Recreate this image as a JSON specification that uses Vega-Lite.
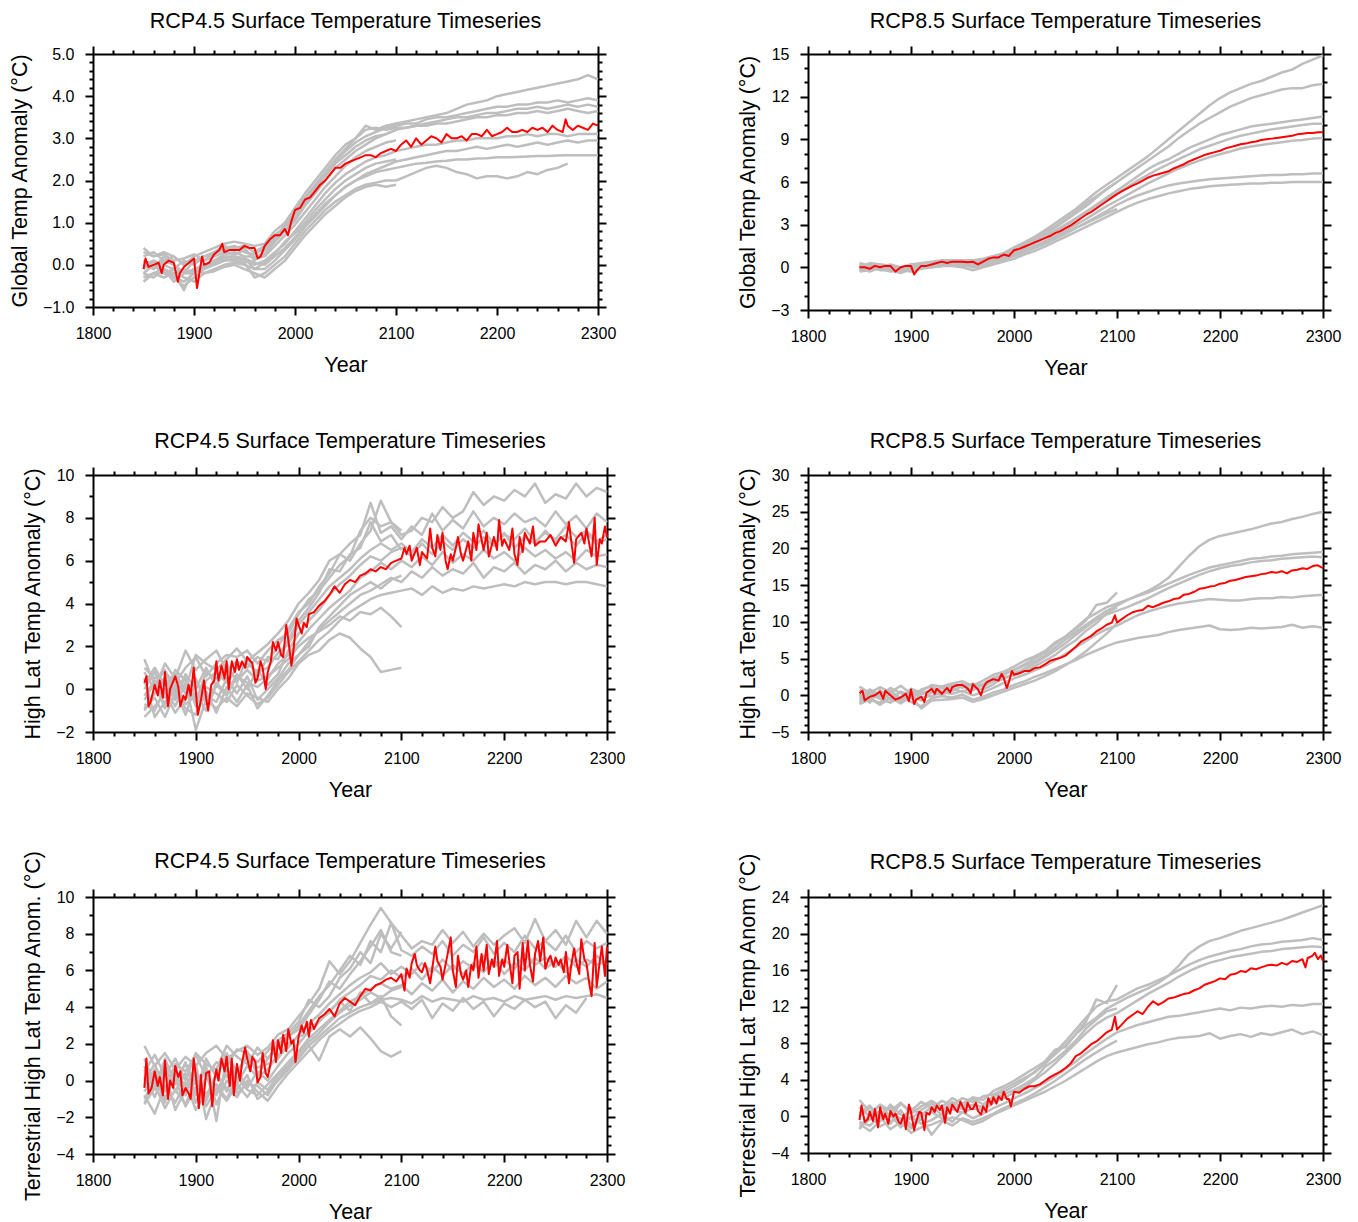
{
"$schema":"https://vega.github.io/schema/vega-lite/v6.json",
"autosize":{"type":"none"},
"padding":{"left":93,"top":54,"right":1265,"bottom":1168},
"background":"white",
"config":{
 "font":"Liberation Sans",
 "view":{"stroke":null},
 "axis":{"grid":false,"domainColor":"black","domainWidth":2,"tickColor":"black","tickWidth":2,"labelFont":"Liberation Sans","labelFontSize":16,"labelColor":"black","titleFont":"Liberation Sans","titleFontSize":21.5,"titleFontWeight":"normal","titleColor":"black","labelOverlap":false,"labelFlush":false,"labelBound":false},
 "axisX":{"labelPadding":10,"titlePadding":13},
 "axisY":{"labelPadding":11,"titlePadding":11},
 "title":{"font":"Liberation Sans","fontSize":21.5,"fontWeight":"normal","color":"black","offset":13,"anchor":"middle"},
 "line":{"strokeJoin":"round"}
},
"datasets":{
"r1":[{"x":1850,"y":-0.1},{"x":1852,"y":0.15},{"x":1855,"y":-0.05},{"x":1860,"y":0},{"x":1865,"y":0.05},{"x":1868,"y":-0.2},{"x":1870,"y":0},{"x":1875,"y":0.1},{"x":1880,"y":0.05},{"x":1884,"y":-0.4},{"x":1886,"y":-0.2},{"x":1890,"y":-0.05},{"x":1895,"y":0.05},{"x":1900,"y":0.15},{"x":1903,"y":-0.55},{"x":1905,"y":-0.25},{"x":1908,"y":0.2},{"x":1910,"y":0},{"x":1915,"y":0.05},{"x":1920,"y":0.25},{"x":1925,"y":0.35},{"x":1928,"y":0.5},{"x":1930,"y":0.3},{"x":1935,"y":0.35},{"x":1940,"y":0.35},{"x":1945,"y":0.35},{"x":1950,"y":0.45},{"x":1955,"y":0.4},{"x":1960,"y":0.4},{"x":1963,"y":0.15},{"x":1966,"y":0.2},{"x":1970,"y":0.45},{"x":1975,"y":0.6},{"x":1980,"y":0.7},{"x":1985,"y":0.7},{"x":1990,"y":0.85},{"x":1993,"y":0.7},{"x":1996,"y":1.0},{"x":2000,"y":1.3},{"x":2005,"y":1.35},{"x":2010,"y":1.55},{"x":2015,"y":1.6},{"x":2020,"y":1.75},{"x":2025,"y":1.9},{"x":2030,"y":2.0},{"x":2035,"y":2.15},{"x":2040,"y":2.3},{"x":2045,"y":2.3},{"x":2050,"y":2.4},{"x":2055,"y":2.45},{"x":2060,"y":2.5},{"x":2065,"y":2.55},{"x":2070,"y":2.6},{"x":2075,"y":2.6},{"x":2080,"y":2.55},{"x":2085,"y":2.65},{"x":2090,"y":2.7},{"x":2095,"y":2.75},{"x":2100,"y":2.7},{"x":2105,"y":2.85},{"x":2110,"y":2.95},{"x":2115,"y":2.8},{"x":2120,"y":3.0},{"x":2125,"y":2.85},{"x":2130,"y":2.95},{"x":2135,"y":3.05},{"x":2140,"y":3.0},{"x":2145,"y":2.9},{"x":2150,"y":3.1},{"x":2155,"y":3.0},{"x":2160,"y":3.0},{"x":2165,"y":3.05},{"x":2170,"y":2.95},{"x":2175,"y":3.1},{"x":2180,"y":3.1},{"x":2185,"y":3.05},{"x":2190,"y":3.2},{"x":2195,"y":3.05},{"x":2200,"y":3.1},{"x":2205,"y":3.15},{"x":2210,"y":3.25},{"x":2215,"y":3.15},{"x":2220,"y":3.15},{"x":2225,"y":3.2},{"x":2230,"y":3.15},{"x":2235,"y":3.25},{"x":2240,"y":3.2},{"x":2245,"y":3.25},{"x":2250,"y":3.15},{"x":2255,"y":3.3},{"x":2260,"y":3.2},{"x":2265,"y":3.15},{"x":2268,"y":3.45},{"x":2270,"y":3.3},{"x":2275,"y":3.2},{"x":2280,"y":3.3},{"x":2285,"y":3.25},{"x":2290,"y":3.2},{"x":2295,"y":3.35},{"x":2300,"y":3.3}],
"g1":[
{"x":1850,"a":0.2,"b":-0.1,"c":0,"d":0.3,"e":-0.3,"f":0.1,"g":-0.2,"h":0,"i":0.4,"j":-0.4,"k":0.1,"l":-0.2},
{"x":1860,"a":0.3,"b":0.1,"c":-0.1,"d":0.2,"e":-0.2,"f":0,"g":-0.3,"h":0.1,"i":0.2,"j":-0.2,"k":-0.1,"l":0},
{"x":1870,"a":0.1,"b":0,"c":0.1,"d":0.25,"e":-0.1,"f":-0.2,"g":-0.1,"h":-0.1,"i":0.3,"j":-0.3,"k":0.2,"l":-0.2},
{"x":1880,"a":0.2,"b":-0.1,"c":0,"d":0.1,"e":-0.3,"f":-0.1,"g":-0.2,"h":-0.4,"i":0.2,"j":-0.2,"k":0,"l":-0.3},
{"x":1890,"a":0,"b":0.1,"c":-0.2,"d":0.15,"e":-0.5,"f":-0.3,"g":-0.1,"h":-0.2,"i":0,"j":-0.6,"k":-0.2,"l":-0.4},
{"x":1900,"a":0.2,"b":0,"c":-0.1,"d":0.25,"e":-0.3,"f":-0.4,"g":-0.2,"h":-0.2,"i":0.1,"j":-0.1,"k":0.1,"l":-0.2},
{"x":1910,"a":0.3,"b":0.2,"c":0,"d":0.1,"e":-0.1,"f":-0.2,"g":-0.05,"h":0,"i":0.2,"j":-0.2,"k":0.1,"l":0},
{"x":1920,"a":0.4,"b":0.3,"c":0.1,"d":0.3,"e":0,"f":-0.1,"g":0.05,"h":0,"i":0.25,"j":-0.15,"k":0.2,"l":0.1},
{"x":1930,"a":0.5,"b":0.35,"c":0.25,"d":0.45,"e":0.1,"f":0,"g":0.15,"h":0.1,"i":0.4,"j":-0.05,"k":0.3,"l":0.2},
{"x":1940,"a":0.55,"b":0.4,"c":0.3,"d":0.35,"e":0.15,"f":0.05,"g":0.2,"h":0.1,"i":0.45,"j":0,"k":0.25,"l":0.2},
{"x":1950,"a":0.5,"b":0.45,"c":0.2,"d":0.4,"e":0.1,"f":0,"g":0.15,"h":0.05,"i":0.3,"j":-0.1,"k":0.35,"l":0.15},
{"x":1960,"a":0.45,"b":0.3,"c":0.2,"d":0.1,"e":0,"f":-0.1,"g":0.05,"h":-0.3,"i":0.25,"j":-0.2,"k":0.15,"l":-0.1},
{"x":1970,"a":0.5,"b":0.45,"c":0.25,"d":0.35,"e":0.1,"f":-0.1,"g":0,"h":-0.2,"i":0.4,"j":-0.3,"k":0.2,"l":0.05},
{"x":1980,"a":0.8,"b":0.7,"c":0.55,"d":0.6,"e":0.3,"f":0.1,"g":0.2,"h":0,"i":0.65,"j":-0.1,"k":0.45,"l":0.25},
{"x":1990,"a":1.0,"b":0.9,"c":0.8,"d":0.95,"e":0.5,"f":0.35,"g":0.4,"h":0.2,"i":0.85,"j":0.1,"k":0.7,"l":0.55},
{"x":2000,"a":1.35,"b":1.2,"c":1.05,"d":1.3,"e":0.8,"f":0.6,"g":0.65,"h":0.5,"i":1.1,"j":0.4,"k":0.95,"l":0.75},
{"x":2010,"a":1.7,"b":1.55,"c":1.4,"d":1.6,"e":1.1,"f":0.9,"g":0.95,"h":0.8,"i":1.45,"j":0.7,"k":1.25,"l":1.0},
{"x":2020,"a":2.0,"b":1.85,"c":1.7,"d":1.9,"e":1.4,"f":1.15,"g":1.2,"h":1.05,"i":1.8,"j":0.95,"k":1.55,"l":1.3},
{"x":2030,"a":2.3,"b":2.15,"c":2.0,"d":2.2,"e":1.7,"f":1.4,"g":1.45,"h":1.3,"i":2.1,"j":1.2,"k":1.85,"l":1.55},
{"x":2040,"a":2.6,"b":2.45,"c":2.3,"d":2.5,"e":1.95,"f":1.65,"g":1.65,"h":1.5,"i":2.4,"j":1.4,"k":2.1,"l":1.8},
{"x":2050,"a":2.85,"b":2.7,"c":2.5,"d":2.75,"e":2.15,"f":1.85,"g":1.85,"h":1.65,"i":2.6,"j":1.6,"k":2.35,"l":2.0},
{"x":2060,"a":3.0,"b":2.9,"c":2.7,"d":3.0,"e":2.3,"f":2.0,"g":2.0,"h":1.8,"i":2.8,"j":1.75,"k":2.55,"l":2.15},
{"x":2070,"a":3.3,"b":3.05,"c":2.85,"d":3.2,"e":2.45,"f":2.15,"g":2.1,"h":1.9,"i":2.95,"j":1.85,"k":2.7,"l":2.3},
{"x":2080,"a":3.2,"b":3.15,"c":3.0,"d":3.25,"e":2.55,"f":2.25,"g":2.2,"h":1.95,"i":3.05,"j":1.9,"k":2.8,"l":2.4},
{"x":2090,"a":3.3,"b":3.25,"c":3.1,"d":3.2,"e":2.6,"f":2.35,"g":2.25,"h":2.0,"i":3.1,"j":1.85,"k":2.9,"l":2.45},
{"x":2100,"a":3.35,"b":3.3,"c":3.2,"d":3.25,"e":2.7,"f":2.45,"g":2.3,"h":2.0,"i":3.2,"j":1.9,"k":2.95,"l":2.5},
{"x":2110,"a":3.4,"b":3.35,"c":3.25,"d":3.25,"e":2.75,"f":2.5,"g":2.35,"h":2.1},
{"x":2120,"a":3.45,"b":3.35,"c":3.3,"d":3.3,"e":2.8,"f":2.55,"g":2.4,"h":2.2},
{"x":2130,"a":3.5,"b":3.45,"c":3.35,"d":3.3,"e":2.85,"f":2.6,"g":2.42,"h":2.3},
{"x":2140,"a":3.55,"b":3.5,"c":3.4,"d":3.35,"e":2.85,"f":2.65,"g":2.45,"h":2.35},
{"x":2150,"a":3.6,"b":3.5,"c":3.45,"d":3.35,"e":2.9,"f":2.7,"g":2.47,"h":2.3},
{"x":2160,"a":3.7,"b":3.55,"c":3.5,"d":3.4,"e":2.95,"f":2.7,"g":2.5,"h":2.2},
{"x":2170,"a":3.8,"b":3.6,"c":3.5,"d":3.45,"e":2.95,"f":2.75,"g":2.5,"h":2.15},
{"x":2180,"a":3.85,"b":3.65,"c":3.55,"d":3.5,"e":3.0,"f":2.8,"g":2.52,"h":2.05},
{"x":2190,"a":3.9,"b":3.7,"c":3.6,"d":3.5,"e":3.0,"f":2.75,"g":2.53,"h":2.1},
{"x":2200,"a":4.0,"b":3.75,"c":3.6,"d":3.55,"e":3.0,"f":2.8,"g":2.55,"h":2.1},
{"x":2210,"a":4.05,"b":3.75,"c":3.65,"d":3.55,"e":3.05,"f":2.85,"g":2.55,"h":2.05},
{"x":2220,"a":4.1,"b":3.8,"c":3.7,"d":3.6,"e":3.05,"f":2.8,"g":2.56,"h":2.1},
{"x":2230,"a":4.15,"b":3.8,"c":3.7,"d":3.6,"e":3.1,"f":2.85,"g":2.57,"h":2.2},
{"x":2240,"a":4.2,"b":3.85,"c":3.75,"d":3.65,"e":3.05,"f":2.9,"g":2.58,"h":2.15},
{"x":2250,"a":4.25,"b":3.85,"c":3.7,"d":3.6,"e":3.1,"f":2.85,"g":2.58,"h":2.25},
{"x":2260,"a":4.3,"b":3.9,"c":3.75,"d":3.65,"e":3.1,"f":2.9,"g":2.59,"h":2.3},
{"x":2270,"a":4.35,"b":3.85,"c":3.8,"d":3.7,"e":3.05,"f":2.95,"g":2.6,"h":2.4},
{"x":2280,"a":4.4,"b":3.9,"c":3.75,"d":3.65,"e":3.1,"f":2.9,"g":2.6},
{"x":2290,"a":4.5,"b":3.95,"c":3.8,"d":3.6,"e":3.1,"f":2.95,"g":2.6},
{"x":2300,"a":4.4,"b":3.9,"c":3.75,"d":3.65,"e":3.1,"f":2.95,"g":2.6}],
"r2":[{"x":1850,"y":0},{"x":1855,"y":0},{"x":1860,"y":-0.1},{"x":1865,"y":0.1},{"x":1870,"y":0},{"x":1875,"y":0.1},{"x":1880,"y":0.1},{"x":1885,"y":-0.3},{"x":1890,"y":0},{"x":1895,"y":0.1},{"x":1900,"y":0.1},{"x":1903,"y":-0.5},{"x":1906,"y":-0.2},{"x":1910,"y":0.1},{"x":1915,"y":0.1},{"x":1920,"y":0.2},{"x":1925,"y":0.3},{"x":1930,"y":0.4},{"x":1935,"y":0.3},{"x":1940,"y":0.4},{"x":1945,"y":0.4},{"x":1950,"y":0.4},{"x":1955,"y":0.35},{"x":1960,"y":0.4},{"x":1965,"y":0.2},{"x":1970,"y":0.4},{"x":1975,"y":0.6},{"x":1980,"y":0.7},{"x":1985,"y":0.7},{"x":1990,"y":0.9},{"x":1995,"y":0.8},{"x":2000,"y":1.2},{"x":2005,"y":1.3},{"x":2010,"y":1.45},{"x":2015,"y":1.6},{"x":2020,"y":1.75},{"x":2025,"y":1.9},{"x":2030,"y":2.05},{"x":2035,"y":2.2},{"x":2040,"y":2.4},{"x":2045,"y":2.55},{"x":2050,"y":2.75},{"x":2055,"y":2.95},{"x":2060,"y":3.2},{"x":2065,"y":3.45},{"x":2070,"y":3.7},{"x":2075,"y":3.9},{"x":2080,"y":4.15},{"x":2085,"y":4.4},{"x":2090,"y":4.65},{"x":2095,"y":4.9},{"x":2100,"y":5.15},{"x":2105,"y":5.35},{"x":2110,"y":5.55},{"x":2115,"y":5.75},{"x":2120,"y":5.9},{"x":2125,"y":6.1},{"x":2130,"y":6.3},{"x":2135,"y":6.45},{"x":2140,"y":6.55},{"x":2145,"y":6.65},{"x":2150,"y":6.75},{"x":2155,"y":6.95},{"x":2160,"y":7.1},{"x":2165,"y":7.25},{"x":2170,"y":7.45},{"x":2175,"y":7.6},{"x":2180,"y":7.75},{"x":2185,"y":7.9},{"x":2190,"y":8.0},{"x":2195,"y":8.1},{"x":2200,"y":8.2},{"x":2205,"y":8.35},{"x":2210,"y":8.45},{"x":2215,"y":8.55},{"x":2220,"y":8.65},{"x":2225,"y":8.7},{"x":2230,"y":8.8},{"x":2235,"y":8.85},{"x":2240,"y":8.95},{"x":2245,"y":9.0},{"x":2250,"y":9.05},{"x":2255,"y":9.1},{"x":2260,"y":9.15},{"x":2265,"y":9.2},{"x":2270,"y":9.25},{"x":2275,"y":9.35},{"x":2280,"y":9.4},{"x":2285,"y":9.45},{"x":2290,"y":9.45},{"x":2295,"y":9.5},{"x":2300,"y":9.5}],
"g2":[
{"x":1850,"a":0.3,"b":0,"c":-0.2,"d":0.1,"e":-0.1,"f":0.2,"g":-0.3,"h":0,"i":-0.1},
{"x":1860,"a":0.1,"b":0.2,"c":0,"d":-0.1,"e":0.1,"f":0,"g":-0.2,"h":0.3,"i":-0.3},
{"x":1870,"a":0.2,"b":-0.1,"c":0.1,"d":0,"e":-0.2,"f":0.1,"g":-0.1,"h":0.2,"i":0},
{"x":1880,"a":0.1,"b":0,"c":-0.1,"d":0.2,"e":-0.2,"f":0,"g":-0.3,"h":0.1,"i":0.1},
{"x":1890,"a":0,"b":-0.2,"c":-0.3,"d":0,"e":-0.4,"f":-0.1,"g":-0.2,"h":-0.1,"i":-0.2},
{"x":1900,"a":0.2,"b":0,"c":-0.2,"d":0.1,"e":-0.1,"f":0,"g":-0.3,"h":0.2,"i":-0.1},
{"x":1910,"a":0.3,"b":0.1,"c":0,"d":0.2,"e":0,"f":0.1,"g":-0.1,"h":0.2,"i":0},
{"x":1920,"a":0.4,"b":0.3,"c":0.1,"d":0.2,"e":0.1,"f":0.2,"g":0,"h":0.3,"i":0},
{"x":1930,"a":0.5,"b":0.3,"c":0.2,"d":0.4,"e":0.2,"f":0.3,"g":0.1,"h":0.4,"i":0.1},
{"x":1940,"a":0.5,"b":0.4,"c":0.3,"d":0.35,"e":0.2,"f":0.3,"g":0.1,"h":0.45,"i":0.2},
{"x":1950,"a":0.5,"b":0.35,"c":0.2,"d":0.3,"e":0.2,"f":0.25,"g":0,"h":0.4,"i":0.1},
{"x":1960,"a":0.5,"b":0.3,"c":0.1,"d":0.2,"e":0,"f":0.1,"g":-0.2,"h":0.35,"i":0.1},
{"x":1970,"a":0.6,"b":0.4,"c":0.2,"d":0.3,"e":0.1,"f":0.1,"g":0,"h":0.5,"i":0.2},
{"x":1980,"a":0.8,"b":0.7,"c":0.5,"d":0.6,"e":0.4,"f":0.3,"g":0.2,"h":0.75,"i":0.4},
{"x":1990,"a":1.0,"b":0.9,"c":0.7,"d":0.8,"e":0.6,"f":0.5,"g":0.4,"h":0.95,"i":0.6},
{"x":2000,"a":1.4,"b":1.3,"c":1.0,"d":1.1,"e":0.9,"f":0.8,"g":0.6,"h":1.3,"i":0.85},
{"x":2010,"a":1.75,"b":1.65,"c":1.35,"d":1.45,"e":1.2,"f":1.05,"g":0.9,"h":1.6,"i":1.1},
{"x":2020,"a":2.15,"b":2.0,"c":1.7,"d":1.8,"e":1.5,"f":1.35,"g":1.15,"h":1.95,"i":1.4},
{"x":2030,"a":2.6,"b":2.45,"c":2.1,"d":2.2,"e":1.85,"f":1.65,"g":1.45,"h":2.35,"i":1.75},
{"x":2040,"a":3.1,"b":2.9,"c":2.5,"d":2.6,"e":2.2,"f":2.0,"g":1.8,"h":2.8,"i":2.1},
{"x":2050,"a":3.6,"b":3.4,"c":2.95,"d":3.0,"e":2.6,"f":2.35,"g":2.15,"h":3.3,"i":2.45},
{"x":2060,"a":4.1,"b":3.9,"c":3.4,"d":3.45,"e":3.0,"f":2.75,"g":2.5,"h":3.8,"i":2.8},
{"x":2070,"a":4.7,"b":4.5,"c":3.9,"d":3.9,"e":3.4,"f":3.15,"g":2.85,"h":4.3,"i":3.1},
{"x":2080,"a":5.3,"b":5.0,"c":4.4,"d":4.35,"e":3.85,"f":3.55,"g":3.2,"h":4.9,"i":3.45},
{"x":2090,"a":5.8,"b":5.5,"c":4.9,"d":4.8,"e":4.3,"f":3.95,"g":3.55,"h":5.5,"i":3.8},
{"x":2100,"a":6.3,"b":6.0,"c":5.4,"d":5.2,"e":4.7,"f":4.4,"g":3.9,"h":6.0,"i":4.1},
{"x":2110,"a":6.8,"b":6.5,"c":5.9,"d":5.65,"e":5.1,"f":4.75,"g":4.25},
{"x":2120,"a":7.3,"b":7.0,"c":6.4,"d":6.1,"e":5.5,"f":5.05,"g":4.55},
{"x":2130,"a":7.8,"b":7.5,"c":6.9,"d":6.5,"e":5.9,"f":5.3,"g":4.8},
{"x":2140,"a":8.4,"b":8.0,"c":7.3,"d":6.9,"e":6.25,"f":5.55,"g":5.0},
{"x":2150,"a":9.0,"b":8.5,"c":7.6,"d":7.25,"e":6.6,"f":5.75,"g":5.2},
{"x":2160,"a":9.6,"b":9.1,"c":8.0,"d":7.6,"e":6.95,"f":5.9,"g":5.35},
{"x":2170,"a":10.2,"b":9.6,"c":8.4,"d":7.95,"e":7.25,"f":6.0,"g":5.5},
{"x":2180,"a":10.8,"b":10.1,"c":8.7,"d":8.3,"e":7.5,"f":6.1,"g":5.6},
{"x":2190,"a":11.4,"b":10.5,"c":9.0,"d":8.55,"e":7.75,"f":6.2,"g":5.7},
{"x":2200,"a":11.9,"b":10.9,"c":9.3,"d":8.8,"e":7.95,"f":6.25,"g":5.75},
{"x":2210,"a":12.3,"b":11.3,"c":9.5,"d":9.05,"e":8.15,"f":6.3,"g":5.8},
{"x":2220,"a":12.6,"b":11.6,"c":9.7,"d":9.25,"e":8.35,"f":6.35,"g":5.85},
{"x":2230,"a":12.9,"b":11.9,"c":9.9,"d":9.4,"e":8.5,"f":6.4,"g":5.9},
{"x":2240,"a":13.1,"b":12.1,"c":10.0,"d":9.55,"e":8.6,"f":6.45,"g":5.9},
{"x":2250,"a":13.4,"b":12.3,"c":10.1,"d":9.7,"e":8.7,"f":6.5,"g":5.95},
{"x":2260,"a":13.7,"b":12.5,"c":10.2,"d":9.8,"e":8.8,"f":6.5,"g":5.95},
{"x":2270,"a":13.9,"b":12.6,"c":10.3,"d":9.9,"e":8.9,"f":6.55,"g":6.0},
{"x":2280,"a":14.3,"b":12.6,"c":10.4,"d":10.0,"e":8.95,"f":6.55,"g":6.0},
{"x":2290,"a":14.6,"b":12.8,"c":10.5,"d":10.1,"e":9.05,"f":6.6,"g":6.0},
{"x":2300,"a":14.9,"b":12.9,"c":10.6,"d":10.1,"e":9.1,"f":6.6,"g":6.0}],
"r3":[{"x":1850,"y":0.3},{"x":1852,"y":0.6},{"x":1854,"y":-0.8},{"x":1856,"y":-0.6},{"x":1860,"y":0.2},{"x":1863,"y":-0.3},{"x":1865,"y":0.4},{"x":1868,"y":-0.4},{"x":1870,"y":0.8},{"x":1873,"y":-0.8},{"x":1875,"y":0},{"x":1880,"y":0.6},{"x":1883,"y":0.1},{"x":1885,"y":-0.8},{"x":1888,"y":-0.3},{"x":1890,"y":-0.5},{"x":1893,"y":0.2},{"x":1895,"y":-0.3},{"x":1898,"y":1.0},{"x":1902,"y":-1.2},{"x":1905,"y":-0.5},{"x":1908,"y":0.4},{"x":1910,"y":-0.4},{"x":1912,"y":-1.0},{"x":1915,"y":0.2},{"x":1918,"y":0.4},{"x":1920,"y":1.3},{"x":1922,"y":0.4},{"x":1925,"y":1.1},{"x":1928,"y":0.5},{"x":1930,"y":1.3},{"x":1932,"y":0},{"x":1935,"y":1.3},{"x":1938,"y":0.8},{"x":1940,"y":1.4},{"x":1942,"y":0.9},{"x":1945,"y":1.3},{"x":1948,"y":1.0},{"x":1950,"y":1.5},{"x":1955,"y":1.2},{"x":1958,"y":0.3},{"x":1960,"y":0.5},{"x":1963,"y":1.3},{"x":1965,"y":1.0},{"x":1968,"y":0},{"x":1970,"y":0.8},{"x":1973,"y":1.3},{"x":1975,"y":2.2},{"x":1978,"y":1.8},{"x":1980,"y":2.2},{"x":1983,"y":1.6},{"x":1985,"y":1.5},{"x":1988,"y":3.0},{"x":1990,"y":2.3},{"x":1993,"y":1.1},{"x":1995,"y":1.8},{"x":1998,"y":3.3},{"x":2000,"y":3.0},{"x":2003,"y":2.6},{"x":2005,"y":3.1},{"x":2008,"y":2.9},{"x":2010,"y":3.5},{"x":2015,"y":3.6},{"x":2020,"y":3.9},{"x":2025,"y":4.1},{"x":2030,"y":4.4},{"x":2035,"y":4.8},{"x":2040,"y":4.5},{"x":2045,"y":4.9},{"x":2050,"y":5.1},{"x":2055,"y":5.0},{"x":2060,"y":5.3},{"x":2065,"y":5.4},{"x":2070,"y":5.6},{"x":2075,"y":5.5},{"x":2080,"y":5.7},{"x":2085,"y":5.6},{"x":2090,"y":5.9},{"x":2095,"y":6.0},{"x":2100,"y":6.1},{"x":2103,"y":6.6},{"x":2105,"y":6.3},{"x":2108,"y":6.7},{"x":2110,"y":6.0},{"x":2115,"y":6.6},{"x":2118,"y":5.8},{"x":2120,"y":6.4},{"x":2125,"y":6.1},{"x":2128,"y":7.5},{"x":2130,"y":6.6},{"x":2133,"y":6.2},{"x":2135,"y":7.2},{"x":2138,"y":6.5},{"x":2140,"y":7.3},{"x":2143,"y":6.0},{"x":2145,"y":5.6},{"x":2148,"y":6.3},{"x":2150,"y":6.0},{"x":2153,"y":6.6},{"x":2155,"y":7.1},{"x":2158,"y":6.3},{"x":2160,"y":6.0},{"x":2165,"y":6.9},{"x":2168,"y":6.0},{"x":2170,"y":7.3},{"x":2173,"y":6.5},{"x":2175,"y":7.7},{"x":2180,"y":6.5},{"x":2183,"y":7.3},{"x":2185,"y":6.2},{"x":2190,"y":7.1},{"x":2193,"y":6.5},{"x":2195,"y":7.9},{"x":2198,"y":6.7},{"x":2200,"y":7.0},{"x":2205,"y":6.5},{"x":2208,"y":7.5},{"x":2210,"y":6.3},{"x":2213,"y":5.8},{"x":2215,"y":7.1},{"x":2218,"y":6.4},{"x":2220,"y":7.3},{"x":2225,"y":6.8},{"x":2228,"y":7.6},{"x":2230,"y":6.7},{"x":2235,"y":6.9},{"x":2240,"y":6.9},{"x":2245,"y":7.2},{"x":2250,"y":6.7},{"x":2255,"y":7.1},{"x":2260,"y":6.9},{"x":2263,"y":7.8},{"x":2265,"y":7.0},{"x":2268,"y":5.9},{"x":2270,"y":7.0},{"x":2275,"y":7.3},{"x":2278,"y":6.8},{"x":2280,"y":7.5},{"x":2285,"y":6.2},{"x":2288,"y":8.0},{"x":2290,"y":5.8},{"x":2293,"y":7.0},{"x":2295,"y":6.8},{"x":2298,"y":7.6},{"x":2300,"y":7.1}],
"g3":[
{"x":1850,"a":1.0,"b":0.2,"c":-1.0,"d":-1.3,"e":0.5,"f":-0.5,"g":0,"h":-0.7,"i":0.8,"j":-0.3,"k":1.4,"l":-0.9},
{"x":1860,"a":0.5,"b":1.0,"c":-0.2,"d":-0.8,"e":-1.3,"f":0.3,"g":0.8,"h":-1.0,"i":0,"j":0.4,"k":0.2,"l":-0.4},
{"x":1870,"a":0.8,"b":0.2,"c":0.5,"d":-0.2,"e":-0.6,"f":-0.9,"g":-0.4,"h":0,"i":1.2,"j":-0.8,"k":0.9,"l":-1.3},
{"x":1880,"a":0.3,"b":0.7,"c":-0.5,"d":-1.1,"e":0,"f":0.2,"g":0.9,"h":-0.8,"i":0.5,"j":0.6,"k":-0.3,"l":-0.2},
{"x":1890,"a":1.0,"b":0,"c":0.6,"d":-0.4,"e":-1.2,"f":-0.7,"g":0.4,"h":0.3,"i":1.8,"j":-0.2,"k":0.7,"l":-0.9},
{"x":1900,"a":1.5,"b":1.6,"c":-0.8,"d":-0.2,"e":0.3,"f":-0.3,"g":-0.6,"h":-1.9,"i":0.9,"j":0.5,"k":0,"l":-1.2},
{"x":1910,"a":0.6,"b":1.2,"c":0.4,"d":-1.0,"e":-0.3,"f":0.1,"g":0.8,"h":-0.5,"i":1.4,"j":-0.7,"k":1.0,"l":-0.1},
{"x":1920,"a":1.2,"b":0.9,"c":0.8,"d":0.2,"e":-0.6,"f":-0.2,"g":0.5,"h":-0.9,"i":1.8,"j":0.3,"k":0.1,"l":-1.1},
{"x":1930,"a":1.6,"b":1.4,"c":0.3,"d":-0.3,"e":0.5,"f":-0.6,"g":1.0,"h":-0.4,"i":0.9,"j":-0.2,"k":1.2,"l":0.1},
{"x":1940,"a":1.5,"b":1.9,"c":1.0,"d":0.6,"e":-0.2,"f":0.2,"g":0.4,"h":-0.8,"i":1.3,"j":0.7,"k":0.3,"l":-0.6},
{"x":1950,"a":1.8,"b":1.3,"c":1.2,"d":0.3,"e":0.6,"f":-0.3,"g":0.9,"h":-0.2,"i":1.0,"j":0,"k":1.5,"l":0.2},
{"x":1960,"a":1.2,"b":1.7,"c":0.8,"d":0.1,"e":-0.5,"f":-0.7,"g":0.4,"h":-0.4,"i":1.5,"j":0.9,"k":0.6,"l":-0.9},
{"x":1970,"a":1.8,"b":2.1,"c":1.0,"d":0.5,"e":0,"f":-0.4,"g":0.6,"h":-0.6,"i":1.3,"j":0.2,"k":1.5,"l":-0.3},
{"x":1980,"a":2.3,"b":2.6,"c":1.7,"d":1.2,"e":0.5,"f":0.2,"g":1.0,"h":0,"i":2.0,"j":0.7,"k":1.4,"l":0.4},
{"x":1990,"a":2.6,"b":3.2,"c":2.1,"d":1.6,"e":1.2,"f":0.8,"g":1.4,"h":0.5,"i":2.8,"j":1.8,"k":2.3,"l":0.9},
{"x":2000,"a":3.5,"b":4.0,"c":3.0,"d":2.2,"e":1.6,"f":1.3,"g":2.0,"h":1.2,"i":3.6,"j":2.6,"k":3.2,"l":1.6},
{"x":2010,"a":4.2,"b":4.5,"c":3.6,"d":2.8,"e":2.2,"f":1.8,"g":2.4,"h":1.6,"i":4.0,"j":3.2,"k":3.8,"l":2.0},
{"x":2020,"a":4.6,"b":5.1,"c":4.2,"d":3.3,"e":2.8,"f":2.3,"g":2.7,"h":1.8,"i":4.8,"j":3.7,"k":4.5,"l":2.9},
{"x":2030,"a":5.2,"b":6.0,"c":4.8,"d":3.8,"e":3.2,"f":2.7,"g":3.0,"h":2.3,"i":5.4,"j":4.4,"k":5.6,"l":3.4},
{"x":2040,"a":5.8,"b":6.3,"c":5.2,"d":4.2,"e":3.6,"f":3.2,"g":3.4,"h":2.6,"i":6.3,"j":4.9,"k":5.5,"l":3.9},
{"x":2050,"a":6.2,"b":6.8,"c":5.6,"d":4.6,"e":4.0,"f":3.6,"g":3.2,"h":2.4,"i":6.0,"j":5.3,"k":6.3,"l":4.4},
{"x":2060,"a":7.4,"b":7.2,"c":6.1,"d":5.2,"e":4.4,"f":3.9,"g":3.6,"h":1.9,"i":6.8,"j":5.8,"k":6.6,"l":4.7},
{"x":2070,"a":8.0,"b":8.7,"c":6.5,"d":5.5,"e":4.6,"f":4.2,"g":3.5,"h":1.5,"i":7.4,"j":6.2,"k":7.8,"l":5.0},
{"x":2080,"a":7.6,"b":7.3,"c":6.8,"d":5.9,"e":4.9,"f":4.4,"g":3.8,"h":0.8,"i":8.8,"j":6.0,"k":6.9,"l":4.7},
{"x":2090,"a":7.8,"b":7.6,"c":6.5,"d":5.6,"e":5.2,"f":4.5,"g":3.4,"h":0.9,"i":7.8,"j":6.4,"k":7.2,"l":5.1},
{"x":2100,"a":7.2,"b":7.0,"c":6.8,"d":6.0,"e":5.0,"f":4.6,"g":2.9,"h":1.0,"i":7.4,"j":6.6,"k":6.5,"l":5.3},
{"x":2110,"a":7.4,"b":7.6,"c":6.4,"d":5.7,"e":5.5,"f":4.7,"j":6.2},
{"x":2120,"a":8.0,"b":7.2,"c":7.0,"d":6.2,"e":5.2,"f":4.4,"j":6.8},
{"x":2130,"a":7.8,"b":8.2,"c":6.6,"d":5.8,"e":5.7,"f":4.8,"j":6.3},
{"x":2140,"a":8.5,"b":7.4,"c":7.2,"d":6.4,"e":5.3,"f":4.5,"j":6.9},
{"x":2150,"a":8.0,"b":7.9,"c":6.7,"d":5.9,"e":5.6,"f":4.7,"j":6.5},
{"x":2160,"a":8.3,"b":7.5,"c":7.3,"d":6.3,"e":5.4,"f":4.6,"j":7.0},
{"x":2170,"a":9.2,"b":8.3,"c":6.9,"d":6.0,"e":5.9,"f":4.8,"j":6.6},
{"x":2180,"a":8.6,"b":7.6,"c":7.4,"d":6.5,"e":5.2,"f":4.7,"j":7.1},
{"x":2190,"a":9.0,"b":8.0,"c":6.8,"d":6.1,"e":5.7,"f":4.8,"j":6.7},
{"x":2200,"a":8.8,"b":7.7,"c":7.2,"d":6.4,"e":5.5,"f":4.9,"j":7.3},
{"x":2210,"a":9.3,"b":8.2,"c":7.0,"d":6.0,"e":5.9,"f":4.8,"j":6.6},
{"x":2220,"a":9.0,"b":7.8,"c":7.5,"d":6.6,"e":5.4,"f":5.0,"j":7.1},
{"x":2230,"a":9.6,"b":8.0,"c":6.9,"d":6.2,"e":5.8,"f":4.9,"j":6.8},
{"x":2240,"a":8.7,"b":7.6,"c":7.3,"d":6.5,"e":5.6,"f":5.0,"j":7.4},
{"x":2250,"a":9.1,"b":8.3,"c":7.0,"d":6.1,"e":6.0,"f":5.0,"j":6.9},
{"x":2260,"a":8.9,"b":7.7,"c":7.6,"d":6.4,"e":5.5,"f":4.9,"j":7.2},
{"x":2270,"a":9.6,"b":8.1,"c":7.1,"d":6.0,"e":5.9,"f":5.0,"j":6.7},
{"x":2280,"a":9.0,"b":7.5,"c":7.4,"d":6.5,"e":5.6,"f":5.0,"j":7.3},
{"x":2290,"a":9.4,"b":8.2,"c":6.9,"d":6.2,"e":5.8,"f":4.9,"j":6.8},
{"x":2300,"a":9.2,"b":7.8,"c":7.2,"d":6.3,"e":5.7,"f":4.8,"j":7.0}],
"r4":[{"x":1850,"y":0.3},{"x":1853,"y":0.6},{"x":1855,"y":-0.7},{"x":1860,"y":-0.2},{"x":1865,"y":0},{"x":1870,"y":0.5},{"x":1873,"y":-0.5},{"x":1875,"y":0.6},{"x":1880,"y":0},{"x":1885,"y":-0.6},{"x":1890,"y":-0.3},{"x":1895,"y":0.2},{"x":1898,"y":-0.8},{"x":1900,"y":0.8},{"x":1903,"y":-1.2},{"x":1905,"y":-0.6},{"x":1910,"y":-0.2},{"x":1913,"y":-0.9},{"x":1915,"y":0.3},{"x":1920,"y":0.9},{"x":1923,"y":0.2},{"x":1925,"y":0.9},{"x":1930,"y":0.2},{"x":1935,"y":1.0},{"x":1938,"y":0.4},{"x":1940,"y":1.1},{"x":1945,"y":1.4},{"x":1950,"y":1.4},{"x":1955,"y":0.9},{"x":1958,"y":0.3},{"x":1960,"y":1.5},{"x":1963,"y":1.1},{"x":1965,"y":0.8},{"x":1968,"y":0},{"x":1970,"y":1.0},{"x":1973,"y":1.7},{"x":1975,"y":1.9},{"x":1980,"y":2.2},{"x":1985,"y":2.0},{"x":1988,"y":2.9},{"x":1990,"y":2.4},{"x":1993,"y":1.0},{"x":1995,"y":1.8},{"x":1998,"y":3.3},{"x":2000,"y":2.8},{"x":2005,"y":3.0},{"x":2010,"y":3.3},{"x":2015,"y":3.3},{"x":2020,"y":3.7},{"x":2025,"y":3.8},{"x":2030,"y":4.2},{"x":2035,"y":4.7},{"x":2040,"y":4.9},{"x":2045,"y":5.1},{"x":2050,"y":5.4},{"x":2055,"y":6.0},{"x":2060,"y":6.6},{"x":2065,"y":7.3},{"x":2070,"y":7.7},{"x":2075,"y":8.1},{"x":2080,"y":8.7},{"x":2085,"y":9.1},{"x":2090,"y":9.6},{"x":2095,"y":9.9},{"x":2098,"y":10.9},{"x":2100,"y":9.9},{"x":2105,"y":10.4},{"x":2110,"y":10.9},{"x":2115,"y":11.3},{"x":2120,"y":11.5},{"x":2125,"y":11.6},{"x":2130,"y":12.2},{"x":2135,"y":12.0},{"x":2140,"y":12.3},{"x":2145,"y":12.6},{"x":2150,"y":12.8},{"x":2155,"y":13.1},{"x":2160,"y":13.2},{"x":2165,"y":13.7},{"x":2170,"y":13.8},{"x":2175,"y":14.1},{"x":2180,"y":14.5},{"x":2185,"y":14.6},{"x":2190,"y":14.8},{"x":2195,"y":14.9},{"x":2200,"y":15.2},{"x":2205,"y":15.3},{"x":2210,"y":15.6},{"x":2215,"y":15.7},{"x":2220,"y":15.9},{"x":2225,"y":16.1},{"x":2230,"y":16.2},{"x":2235,"y":16.3},{"x":2240,"y":16.5},{"x":2245,"y":16.6},{"x":2250,"y":16.8},{"x":2255,"y":16.7},{"x":2260,"y":16.9},{"x":2265,"y":16.6},{"x":2270,"y":17.0},{"x":2275,"y":17.1},{"x":2280,"y":17.3},{"x":2285,"y":17.2},{"x":2290,"y":17.6},{"x":2295,"y":17.7},{"x":2300,"y":17.3}],
"g4":[
{"x":1850,"a":0.8,"b":-0.5,"c":0.2,"d":-1.2,"e":-0.8,"f":1.2,"g":-0.2,"h":-1.0},
{"x":1860,"a":-0.3,"b":0.6,"c":-1.0,"d":-0.6,"e":0.2,"f":0.3,"g":0.8,"h":-0.4},
{"x":1870,"a":0.5,"b":-0.2,"c":0.7,"d":-1.0,"e":-0.5,"f":1.1,"g":0,"h":-1.3},
{"x":1880,"a":0.2,"b":1.0,"c":-0.6,"d":0.2,"e":-1.0,"f":0.4,"g":0.6,"h":-0.3},
{"x":1890,"a":-0.5,"b":0.3,"c":0.5,"d":-0.8,"e":-0.2,"f":1.3,"g":-0.4,"h":-1.1},
{"x":1900,"a":0.9,"b":-0.4,"c":0,"d":0.4,"e":-0.9,"f":0.2,"g":0.5,"h":-0.2},
{"x":1910,"a":0.3,"b":0.8,"c":-0.7,"d":-0.3,"e":-1.5,"f":0.6,"g":0.1,"h":-1.8},
{"x":1920,"a":0.7,"b":1.2,"c":0.4,"d":-0.1,"e":-0.4,"f":1.4,"g":0.7,"h":-0.7},
{"x":1930,"a":1.0,"b":0.5,"c":1.1,"d":0.4,"e":-0.1,"f":1.2,"g":0,"h":-0.6},
{"x":1940,"a":1.2,"b":1.5,"c":0.6,"d":0.2,"e":-0.3,"f":1.6,"g":0.9,"h":-0.5},
{"x":1950,"a":1.5,"b":1.0,"c":1.3,"d":0.6,"e":0.1,"f":1.9,"g":0.5,"h":-0.3},
{"x":1960,"a":1.3,"b":1.6,"c":0.7,"d":0,"e":-0.6,"f":1.3,"g":1.0,"h":-0.9},
{"x":1970,"a":1.5,"b":1.2,"c":1.4,"d":0.4,"e":-0.2,"f":2.0,"g":0.8,"h":-0.5},
{"x":1980,"a":2.4,"b":2.0,"c":1.9,"d":1.0,"e":0.4,"f":2.8,"g":1.5,"h":0},
{"x":1990,"a":2.8,"b":2.9,"c":2.2,"d":1.7,"e":0.8,"f":3.2,"g":2.5,"h":0.5},
{"x":2000,"a":3.5,"b":3.4,"c":3.0,"d":2.3,"e":1.4,"f":3.9,"g":2.7,"h":1.0},
{"x":2010,"a":4.0,"b":4.2,"c":3.6,"d":2.8,"e":1.9,"f":4.7,"g":3.3,"h":1.5},
{"x":2020,"a":4.6,"b":5.0,"c":4.3,"d":3.4,"e":2.5,"f":5.3,"g":3.9,"h":2.0},
{"x":2030,"a":5.4,"b":5.8,"c":5.2,"d":4.0,"e":3.0,"f":6.0,"g":4.7,"h":2.6},
{"x":2040,"a":6.5,"b":7.0,"c":6.1,"d":4.8,"e":3.6,"f":7.2,"g":5.5,"h":3.3},
{"x":2050,"a":7.6,"b":8.0,"c":7.1,"d":5.6,"e":4.2,"f":8.0,"g":6.6,"h":4.1},
{"x":2060,"a":8.6,"b":9.2,"c":8.2,"d":6.5,"e":4.8,"f":9.0,"g":7.5,"h":5.0},
{"x":2070,"a":9.6,"b":10.4,"c":9.3,"d":7.4,"e":5.5,"f":10.2,"g":8.8,"h":6.0},
{"x":2080,"a":10.6,"b":11.2,"c":10.3,"d":8.3,"e":6.1,"f":12.3,"g":9.8,"h":7.2},
{"x":2090,"a":11.5,"b":12.0,"c":11.0,"d":9.0,"e":6.7,"f":12.6,"g":11.2,"h":8.4},
{"x":2100,"a":12.2,"b":12.5,"c":11.5,"d":9.5,"e":7.2,"f":14.0,"g":12.0,"h":9.8},
{"x":2110,"a":13.0,"b":13.0,"c":12.0,"d":10.2,"e":7.5},
{"x":2120,"a":13.6,"b":13.5,"c":12.6,"d":10.9,"e":7.8},
{"x":2130,"a":14.2,"b":14.0,"c":13.2,"d":11.4,"e":8.0},
{"x":2140,"a":15.0,"b":14.6,"c":13.9,"d":11.8,"e":8.2},
{"x":2150,"a":16.0,"b":15.2,"c":14.6,"d":12.2,"e":8.6},
{"x":2160,"a":17.5,"b":15.8,"c":15.2,"d":12.5,"e":8.9},
{"x":2170,"a":19.0,"b":16.4,"c":15.8,"d":12.7,"e":9.1},
{"x":2180,"a":20.3,"b":16.9,"c":16.4,"d":12.9,"e":9.3},
{"x":2190,"a":21.2,"b":17.4,"c":16.9,"d":13.1,"e":9.5},
{"x":2200,"a":21.7,"b":17.7,"c":17.3,"d":13.0,"e":9.0},
{"x":2210,"a":22.0,"b":18.0,"c":17.6,"d":12.9,"e":8.9},
{"x":2220,"a":22.3,"b":18.3,"c":17.8,"d":12.9,"e":9.0},
{"x":2230,"a":22.6,"b":18.6,"c":18.1,"d":13.1,"e":9.2},
{"x":2240,"a":23.0,"b":18.7,"c":18.3,"d":13.2,"e":9.1},
{"x":2250,"a":23.4,"b":18.9,"c":18.4,"d":13.2,"e":9.2},
{"x":2260,"a":23.6,"b":19.0,"c":18.6,"d":13.4,"e":9.3},
{"x":2270,"a":24.0,"b":19.2,"c":18.7,"d":13.3,"e":9.6},
{"x":2280,"a":24.3,"b":19.3,"c":18.8,"d":13.5,"e":9.2},
{"x":2290,"a":24.7,"b":19.4,"c":18.9,"d":13.6,"e":9.4},
{"x":2300,"a":25.0,"b":19.5,"c":18.8,"d":13.7,"e":9.2}],
"r5":[{"x":1850,"y":-0.4},{"x":1852,"y":1.2},{"x":1854,"y":-0.7},{"x":1857,"y":-0.4},{"x":1860,"y":0.5},{"x":1863,"y":-0.3},{"x":1865,"y":0.2},{"x":1868,"y":-0.8},{"x":1870,"y":1.1},{"x":1873,"y":-1.0},{"x":1875,"y":0},{"x":1878,"y":-0.4},{"x":1880,"y":0.8},{"x":1883,"y":0.2},{"x":1885,"y":0.5},{"x":1887,"y":-0.8},{"x":1890,"y":-0.4},{"x":1893,"y":-0.7},{"x":1895,"y":-1.0},{"x":1898,"y":1.2},{"x":1900,"y":0.3},{"x":1903,"y":-1.5},{"x":1905,"y":0.3},{"x":1907,"y":-1.3},{"x":1910,"y":0.4},{"x":1913,"y":0.5},{"x":1916,"y":-1.4},{"x":1918,"y":0},{"x":1920,"y":0.6},{"x":1922,"y":0},{"x":1925,"y":1.2},{"x":1928,"y":0.5},{"x":1930,"y":1.3},{"x":1933,"y":-0.3},{"x":1935,"y":1.2},{"x":1937,"y":-0.8},{"x":1940,"y":0.9},{"x":1943,"y":0},{"x":1945,"y":1.0},{"x":1948,"y":1.8},{"x":1950,"y":1.2},{"x":1953,"y":0.5},{"x":1955,"y":1.3},{"x":1958,"y":1.0},{"x":1960,"y":-0.1},{"x":1963,"y":0.2},{"x":1965,"y":1.5},{"x":1968,"y":0.4},{"x":1970,"y":0.2},{"x":1973,"y":1.0},{"x":1975,"y":2.2},{"x":1978,"y":1.0},{"x":1980,"y":2.2},{"x":1983,"y":1.5},{"x":1985,"y":2.5},{"x":1988,"y":1.6},{"x":1990,"y":2.8},{"x":1993,"y":2.0},{"x":1995,"y":2.2},{"x":1997,"y":1.0},{"x":2000,"y":2.4},{"x":2003,"y":3.0},{"x":2005,"y":2.6},{"x":2008,"y":3.2},{"x":2010,"y":2.4},{"x":2012,"y":3.3},{"x":2015,"y":2.8},{"x":2020,"y":3.4},{"x":2025,"y":3.6},{"x":2030,"y":3.9},{"x":2035,"y":3.5},{"x":2040,"y":4.2},{"x":2045,"y":4.5},{"x":2050,"y":4.3},{"x":2055,"y":4.1},{"x":2060,"y":4.6},{"x":2065,"y":5.0},{"x":2070,"y":4.9},{"x":2075,"y":5.2},{"x":2080,"y":5.3},{"x":2085,"y":5.5},{"x":2090,"y":5.6},{"x":2095,"y":5.4},{"x":2100,"y":5.8},{"x":2103,"y":4.9},{"x":2105,"y":6.1},{"x":2108,"y":5.6},{"x":2110,"y":6.4},{"x":2113,"y":6.9},{"x":2115,"y":6.3},{"x":2118,"y":6.0},{"x":2120,"y":5.9},{"x":2123,"y":6.4},{"x":2125,"y":6.0},{"x":2128,"y":5.3},{"x":2130,"y":6.1},{"x":2133,"y":7.3},{"x":2135,"y":6.5},{"x":2138,"y":6.2},{"x":2140,"y":5.5},{"x":2145,"y":6.9},{"x":2148,"y":7.8},{"x":2150,"y":6.0},{"x":2153,"y":5.1},{"x":2155,"y":6.8},{"x":2158,"y":5.8},{"x":2160,"y":5.5},{"x":2163,"y":6.0},{"x":2165,"y":5.1},{"x":2168,"y":6.3},{"x":2170,"y":6.0},{"x":2173,"y":7.3},{"x":2175,"y":5.6},{"x":2178,"y":6.9},{"x":2180,"y":6.0},{"x":2183,"y":7.4},{"x":2185,"y":5.8},{"x":2188,"y":6.6},{"x":2190,"y":6.2},{"x":2193,"y":7.6},{"x":2195,"y":5.7},{"x":2198,"y":6.6},{"x":2200,"y":6.2},{"x":2203,"y":7.4},{"x":2205,"y":6.5},{"x":2208,"y":5.3},{"x":2210,"y":6.8},{"x":2213,"y":7.0},{"x":2215,"y":5.0},{"x":2218,"y":7.5},{"x":2220,"y":6.0},{"x":2223,"y":7.6},{"x":2225,"y":6.3},{"x":2228,"y":5.4},{"x":2230,"y":6.9},{"x":2233,"y":7.6},{"x":2235,"y":6.5},{"x":2238,"y":7.8},{"x":2240,"y":6.1},{"x":2243,"y":6.6},{"x":2245,"y":6.8},{"x":2248,"y":6.2},{"x":2250,"y":6.7},{"x":2253,"y":6.3},{"x":2255,"y":6.6},{"x":2258,"y":5.9},{"x":2260,"y":7.0},{"x":2263,"y":5.3},{"x":2265,"y":6.2},{"x":2268,"y":7.2},{"x":2270,"y":6.5},{"x":2273,"y":5.8},{"x":2275,"y":7.7},{"x":2278,"y":6.6},{"x":2280,"y":6.4},{"x":2283,"y":5.2},{"x":2285,"y":4.6},{"x":2288,"y":7.5},{"x":2290,"y":5.1},{"x":2293,"y":6.5},{"x":2295,"y":7.3},{"x":2298,"y":5.7},{"x":2300,"y":7.3}],
"g5":[
{"x":1850,"a":1.9,"b":0.5,"c":-1.3,"d":-0.8,"e":0.2,"f":-1.0,"g":-0.3,"h":1.2,"i":0,"j":-0.6,"k":0.8,"l":-1.2},
{"x":1860,"a":0.8,"b":1.4,"c":-0.4,"d":-1.8,"e":-0.9,"f":0,"g":0.6,"h":-0.2,"i":0.9,"j":0.3,"k":-0.5,"l":-0.2},
{"x":1870,"a":1.5,"b":0.3,"c":0.8,"d":-0.3,"e":0.5,"f":-0.6,"g":-1.0,"h":1.0,"i":-0.5,"j":-1.2,"k":1.2,"l":-1.5},
{"x":1880,"a":0.6,"b":1.2,"c":-0.6,"d":-1.2,"e":-1.6,"f":0.1,"g":0.4,"h":0,"i":0.9,"j":0.5,"k":-0.2,"l":-0.5},
{"x":1890,"a":1.3,"b":0,"c":0.4,"d":-0.1,"e":-0.5,"f":-1.4,"g":-0.8,"h":0.9,"i":0.5,"j":-0.3,"k":1.0,"l":-1.3},
{"x":1900,"a":0.8,"b":1.5,"c":-1.2,"d":-1.6,"e":0.4,"f":-0.4,"g":0.9,"h":-0.2,"i":1.4,"j":0.6,"k":-0.8,"l":0.1},
{"x":1910,"a":1.5,"b":0.9,"c":0.2,"d":-0.7,"e":-1.1,"f":0.6,"g":-2.1,"h":0.8,"i":0.2,"j":-0.9,"k":1.2,"l":-1.4},
{"x":1920,"a":1.9,"b":0.6,"c":-0.8,"d":-0.2,"e":0.3,"f":-1.3,"g":-0.5,"h":-2.2,"i":1.0,"j":0.4,"k":0.2,"l":-0.4},
{"x":1930,"a":1.2,"b":1.9,"c":0.6,"d":-1.0,"e":-0.4,"f":0,"g":0.3,"h":1.4,"i":0.8,"j":-0.6,"k":1.5,"l":-1.1},
{"x":1940,"a":1.6,"b":1.3,"c":-0.2,"d":0.2,"e":-0.9,"f":-0.5,"g":-0.7,"h":0.5,"i":1.7,"j":0.6,"k":0,"l":-0.2},
{"x":1950,"a":1.9,"b":0.9,"c":0.8,"d":-0.5,"e":0,"f":0.3,"g":-0.2,"h":1.3,"i":1.5,"j":-0.4,"k":1.6,"l":-0.9},
{"x":1960,"a":1.4,"b":1.8,"c":0.2,"d":-0.8,"e":-0.6,"f":-1.0,"g":-0.3,"h":0.7,"i":1.0,"j":0.5,"k":0.3,"l":-0.1},
{"x":1970,"a":1.8,"b":1.2,"c":0.6,"d":-0.2,"e":-1.1,"f":-0.6,"g":-0.8,"h":0.9,"i":1.6,"j":0,"k":1.2,"l":-0.5},
{"x":1980,"a":2.5,"b":2.0,"c":1.4,"d":0.4,"e":-0.3,"f":0,"g":0.1,"h":1.2,"i":2.2,"j":0.8,"k":1.8,"l":0.3},
{"x":1990,"a":2.8,"b":2.4,"c":1.8,"d":1.0,"e":0.4,"f":0.6,"g":0.7,"h":2.0,"i":2.6,"j":1.5,"k":2.4,"l":0.8},
{"x":2000,"a":3.5,"b":3.0,"c":2.5,"d":1.6,"e":1.0,"f":1.3,"g":1.2,"h":2.4,"i":3.2,"j":2.0,"k":2.8,"l":1.5},
{"x":2010,"a":4.2,"b":3.8,"c":3.1,"d":2.3,"e":1.6,"f":1.9,"g":1.9,"h":2.6,"i":4.4,"j":2.7,"k":3.6,"l":2.1},
{"x":2020,"a":5.0,"b":4.6,"c":3.6,"d":2.8,"e":2.2,"f":2.4,"g":1.1,"h":3.2,"i":4.0,"j":3.3,"k":4.4,"l":2.6},
{"x":2030,"a":6.5,"b":5.2,"c":4.2,"d":3.3,"e":2.7,"f":2.9,"g":2.4,"h":3.8,"i":4.6,"j":3.7,"k":5.4,"l":3.2},
{"x":2040,"a":5.8,"b":6.0,"c":4.7,"d":3.8,"e":3.1,"f":3.4,"g":2.8,"h":4.3,"i":5.6,"j":4.4,"k":5.0,"l":3.7},
{"x":2050,"a":6.5,"b":6.8,"c":5.2,"d":4.3,"e":3.5,"f":3.7,"g":2.4,"h":3.8,"i":6.1,"j":4.8,"k":5.8,"l":4.1},
{"x":2060,"a":7.5,"b":6.3,"c":5.6,"d":4.6,"e":3.8,"f":4.0,"g":2.9,"h":4.8,"i":7.0,"j":5.2,"k":6.5,"l":4.4},
{"x":2070,"a":8.5,"b":7.6,"c":5.9,"d":5.0,"e":4.0,"f":4.2,"g":2.3,"h":4.2,"i":6.4,"j":5.7,"k":7.3,"l":4.8},
{"x":2080,"a":9.4,"b":7.0,"c":6.4,"d":5.3,"e":4.3,"f":4.4,"g":1.6,"h":4.6,"i":8.0,"j":5.5,"k":8.2,"l":4.5},
{"x":2090,"a":8.6,"b":8.6,"c":5.8,"d":5.0,"e":4.0,"f":4.5,"g":1.3,"h":3.5,"i":7.2,"j":6.0,"k":7.0,"l":4.9},
{"x":2100,"a":7.9,"b":7.1,"c":6.2,"d":5.2,"e":4.3,"f":4.4,"g":1.6,"h":3.0,"i":8.1,"j":5.6,"k":6.8,"l":5.1},
{"x":2110,"a":7.2,"b":6.8,"c":5.8,"d":4.7,"e":3.9,"f":4.2,"j":6.1},
{"x":2120,"a":7.6,"b":7.3,"c":6.4,"d":5.3,"e":4.4,"f":4.6,"j":5.5},
{"x":2130,"a":7.4,"b":6.9,"c":5.9,"d":4.9,"e":3.4,"f":4.3,"j":6.2},
{"x":2140,"a":8.2,"b":7.6,"c":6.6,"d":5.5,"e":4.2,"f":4.5,"j":5.7},
{"x":2150,"a":7.5,"b":6.8,"c":6.0,"d":4.8,"e":3.8,"f":4.4,"j":6.3},
{"x":2160,"a":8.1,"b":7.4,"c":6.5,"d":5.4,"e":4.5,"f":4.3,"j":5.8},
{"x":2170,"a":7.3,"b":7.0,"c":6.1,"d":5.0,"e":3.9,"f":4.6,"j":6.4},
{"x":2180,"a":8.0,"b":7.8,"c":6.8,"d":5.6,"e":4.3,"f":4.4,"j":5.9},
{"x":2190,"a":7.4,"b":6.9,"c":6.2,"d":5.1,"e":3.5,"f":4.5,"j":6.6},
{"x":2200,"a":7.9,"b":7.5,"c":6.6,"d":5.5,"e":4.2,"f":4.3,"j":5.8},
{"x":2210,"a":8.3,"b":7.0,"c":6.1,"d":5.0,"e":3.9,"f":4.6,"j":6.4},
{"x":2220,"a":7.5,"b":7.9,"c":6.9,"d":5.7,"e":4.4,"f":4.4,"j":6.0},
{"x":2230,"a":8.8,"b":7.2,"c":6.3,"d":5.2,"e":4.0,"f":4.5,"j":6.7},
{"x":2240,"a":7.6,"b":7.6,"c":6.7,"d":5.6,"e":4.3,"f":4.6,"j":6.1},
{"x":2250,"a":8.2,"b":7.1,"c":6.2,"d":5.1,"e":3.4,"f":4.4,"j":6.5},
{"x":2260,"a":7.4,"b":7.9,"c":6.8,"d":5.7,"e":4.1,"f":4.6,"j":5.9},
{"x":2270,"a":8.7,"b":7.0,"c":6.2,"d":5.3,"e":3.7,"f":4.5,"j":6.6},
{"x":2280,"a":7.8,"b":7.6,"c":6.6,"d":5.6,"e":4.5,"f":4.6,"j":6.2},
{"x":2290,"a":8.7,"b":7.2,"c":6.3,"d":5.0,"f":4.7,"j":6.8},
{"x":2300,"a":8.0,"b":7.5,"c":6.5,"d":5.4,"f":4.5,"j":6.3}],
"r6":[{"x":1850,"y":-0.4},{"x":1852,"y":1.2},{"x":1855,"y":-0.6},{"x":1858,"y":-0.3},{"x":1860,"y":0.5},{"x":1863,"y":-0.5},{"x":1865,"y":0.8},{"x":1868,"y":-1.2},{"x":1870,"y":1.0},{"x":1873,"y":-0.3},{"x":1875,"y":0.3},{"x":1878,"y":-0.8},{"x":1880,"y":0.6},{"x":1883,"y":0},{"x":1885,"y":0.3},{"x":1888,"y":-0.6},{"x":1890,"y":-0.8},{"x":1893,"y":0.2},{"x":1895,"y":-1.4},{"x":1898,"y":1.3},{"x":1900,"y":0.5},{"x":1903,"y":-1.5},{"x":1905,"y":-0.6},{"x":1908,"y":0.5},{"x":1910,"y":0.4},{"x":1913,"y":-1.5},{"x":1915,"y":0.4},{"x":1918,"y":0.2},{"x":1920,"y":1.0},{"x":1923,"y":0.5},{"x":1925,"y":1.2},{"x":1928,"y":0.7},{"x":1930,"y":1.2},{"x":1933,"y":-0.7},{"x":1935,"y":1.0},{"x":1938,"y":0.3},{"x":1940,"y":1.3},{"x":1943,"y":0.8},{"x":1945,"y":0.5},{"x":1948,"y":1.6},{"x":1950,"y":1.1},{"x":1953,"y":0.4},{"x":1955,"y":1.5},{"x":1958,"y":0.8},{"x":1960,"y":0.8},{"x":1963,"y":1.5},{"x":1965,"y":0.6},{"x":1968,"y":0.2},{"x":1970,"y":1.1},{"x":1973,"y":0.5},{"x":1975,"y":2.0},{"x":1978,"y":1.3},{"x":1980,"y":2.1},{"x":1983,"y":1.4},{"x":1985,"y":2.2},{"x":1988,"y":1.8},{"x":1990,"y":2.7},{"x":1993,"y":1.9},{"x":1995,"y":1.9},{"x":1997,"y":1.1},{"x":2000,"y":2.7},{"x":2005,"y":2.6},{"x":2010,"y":3.0},{"x":2015,"y":3.3},{"x":2020,"y":3.3},{"x":2025,"y":3.5},{"x":2030,"y":3.9},{"x":2035,"y":4.3},{"x":2040,"y":4.6},{"x":2045,"y":4.9},{"x":2050,"y":5.3},{"x":2055,"y":5.8},{"x":2060,"y":6.6},{"x":2065,"y":6.9},{"x":2070,"y":7.4},{"x":2075,"y":7.9},{"x":2080,"y":8.2},{"x":2085,"y":8.7},{"x":2090,"y":9.2},{"x":2095,"y":9.5},{"x":2098,"y":10.9},{"x":2100,"y":9.5},{"x":2105,"y":10.1},{"x":2110,"y":10.7},{"x":2115,"y":11.1},{"x":2120,"y":11.5},{"x":2125,"y":11.2},{"x":2130,"y":12.0},{"x":2135,"y":12.6},{"x":2140,"y":12.2},{"x":2145,"y":12.5},{"x":2150,"y":12.9},{"x":2155,"y":13.0},{"x":2160,"y":13.2},{"x":2165,"y":13.4},{"x":2170,"y":13.5},{"x":2175,"y":13.8},{"x":2180,"y":14.0},{"x":2185,"y":14.4},{"x":2190,"y":14.6},{"x":2195,"y":14.8},{"x":2200,"y":15.1},{"x":2205,"y":15.0},{"x":2210,"y":15.5},{"x":2215,"y":15.6},{"x":2220,"y":15.9},{"x":2225,"y":15.8},{"x":2230,"y":16.2},{"x":2235,"y":16.1},{"x":2240,"y":16.3},{"x":2245,"y":16.5},{"x":2250,"y":16.6},{"x":2255,"y":16.5},{"x":2260,"y":16.8},{"x":2265,"y":16.6},{"x":2270,"y":17.0},{"x":2275,"y":16.9},{"x":2280,"y":17.2},{"x":2283,"y":16.3},{"x":2285,"y":17.3},{"x":2290,"y":17.6},{"x":2292,"y":17.9},{"x":2295,"y":17.2},{"x":2298,"y":17.6},{"x":2300,"y":17.0}],
"g6":[
{"x":1850,"a":1.8,"b":0.3,"c":-1.2,"d":-0.8,"e":-1.4,"f":1.0,"g":0,"h":-0.6},
{"x":1860,"a":0.5,"b":1.2,"c":-0.3,"d":-1.6,"e":0.2,"f":0,"g":1.0,"h":-1.0},
{"x":1870,"a":1.2,"b":-0.2,"c":0.6,"d":-0.5,"e":-1.1,"f":1.3,"g":0.2,"h":0},
{"x":1880,"a":0,"b":1.3,"c":-0.8,"d":0.2,"e":-0.5,"f":0.6,"g":1.0,"h":-1.4},
{"x":1890,"a":1.4,"b":0.2,"c":0.7,"d":-1.2,"e":-0.2,"f":1.5,"g":-0.4,"h":-0.6},
{"x":1900,"a":0.6,"b":-0.3,"c":-1.0,"d":0,"e":-1.3,"f":0.3,"g":0.9,"h":-1.8},
{"x":1910,"a":1.6,"b":0.7,"c":0,"d":-0.8,"e":-0.2,"f":1.1,"g":0.2,"h":-1.2},
{"x":1920,"a":0.9,"b":1.4,"c":0.5,"d":-0.4,"e":-2.0,"f":1.7,"g":1.0,"h":-0.9},
{"x":1930,"a":1.7,"b":0.6,"c":-0.2,"d":0.3,"e":-0.6,"f":1.0,"g":0.2,"h":-0.4},
{"x":1940,"a":1.2,"b":1.6,"c":0.8,"d":-0.6,"e":-0.1,"f":2.0,"g":1.2,"h":-1.0},
{"x":1950,"a":2.0,"b":1.0,"c":0.4,"d":0.5,"e":-0.4,"f":1.4,"g":0.8,"h":-0.2},
{"x":1960,"a":1.6,"b":2.0,"c":0.9,"d":-0.2,"e":-0.9,"f":2.1,"g":1.3,"h":-0.6},
{"x":1970,"a":2.2,"b":1.3,"c":0.7,"d":0.3,"e":-0.5,"f":1.8,"g":1.0,"h":-0.2},
{"x":1980,"a":2.4,"b":2.2,"c":1.5,"d":0.9,"e":0.2,"f":2.8,"g":1.8,"h":0.3},
{"x":1990,"a":3.0,"b":2.7,"c":2.0,"d":1.4,"e":0.7,"f":3.3,"g":2.4,"h":0.9},
{"x":2000,"a":3.6,"b":3.3,"c":2.6,"d":2.0,"e":1.2,"f":3.9,"g":2.9,"h":1.4},
{"x":2010,"a":4.2,"b":4.0,"c":3.2,"d":2.5,"e":1.7,"f":4.6,"g":3.5,"h":1.9},
{"x":2020,"a":4.8,"b":4.9,"c":4.0,"d":3.1,"e":2.2,"f":5.3,"g":4.2,"h":2.5},
{"x":2030,"a":5.8,"b":5.7,"c":4.8,"d":3.7,"e":2.7,"f":6.0,"g":5.4,"h":3.2},
{"x":2040,"a":6.8,"b":7.0,"c":5.8,"d":4.4,"e":3.3,"f":7.3,"g":6.2,"h":3.9},
{"x":2050,"a":7.8,"b":8.2,"c":6.9,"d":5.2,"e":3.9,"f":7.6,"g":7.2,"h":4.7},
{"x":2060,"a":9.0,"b":9.5,"c":8.0,"d":6.0,"e":4.6,"f":9.0,"g":8.3,"h":5.5},
{"x":2070,"a":10.0,"b":10.8,"c":9.1,"d":6.9,"e":5.3,"f":10.4,"g":9.6,"h":6.3},
{"x":2080,"a":10.8,"b":12.0,"c":10.1,"d":7.7,"e":6.0,"f":12.8,"g":10.6,"h":7.0},
{"x":2090,"a":11.8,"b":12.6,"c":10.8,"d":8.5,"e":6.6,"f":12.4,"g":11.5,"h":7.7},
{"x":2100,"a":12.4,"b":12.8,"c":11.3,"d":9.2,"e":7.0,"f":14.4,"g":11.8,"h":8.3},
{"x":2110,"a":13.0,"b":13.4,"c":12.0,"d":9.6,"e":7.3},
{"x":2120,"a":13.5,"b":14.0,"c":12.7,"d":10.0,"e":7.6},
{"x":2130,"a":14.0,"b":14.4,"c":13.4,"d":10.3,"e":7.9},
{"x":2140,"a":14.6,"b":14.9,"c":14.0,"d":10.6,"e":8.1},
{"x":2150,"a":15.4,"b":15.4,"c":14.6,"d":10.9,"e":8.4},
{"x":2160,"a":16.5,"b":16.0,"c":15.3,"d":11.0,"e":8.6},
{"x":2170,"a":17.8,"b":16.6,"c":15.9,"d":11.2,"e":8.7},
{"x":2180,"a":18.6,"b":17.1,"c":16.4,"d":11.4,"e":8.8},
{"x":2190,"a":19.2,"b":17.5,"c":16.8,"d":11.6,"e":9.1},
{"x":2200,"a":19.5,"b":17.8,"c":17.1,"d":11.8,"e":8.5},
{"x":2210,"a":19.9,"b":18.1,"c":17.4,"d":11.6,"e":8.8},
{"x":2220,"a":20.3,"b":18.3,"c":17.6,"d":11.9,"e":9.0},
{"x":2230,"a":20.6,"b":18.6,"c":17.8,"d":11.8,"e":8.7},
{"x":2240,"a":20.9,"b":18.8,"c":18.0,"d":12.0,"e":9.1},
{"x":2250,"a":21.2,"b":18.9,"c":18.1,"d":12.1,"e":8.9},
{"x":2260,"a":21.5,"b":19.1,"c":18.3,"d":12.0,"e":9.2},
{"x":2270,"a":21.9,"b":19.2,"c":18.4,"d":12.2,"e":9.5},
{"x":2280,"a":22.3,"b":19.3,"c":18.5,"d":12.1,"e":9.0},
{"x":2290,"a":22.7,"b":19.5,"c":18.6,"d":12.3,"e":9.3},
{"x":2300,"a":23.1,"b":19.3,"c":18.5,"d":12.3,"e":8.9}]
},
"columns":2,
"spacing":{"row":165,"column":201},
"bounds":"flush",
"concat":[
{"title":"RCP4.5 Surface Temperature Timeseries","width":505,"height":253,
 "resolve":{"axis":{"x":"independent","y":"independent"}},
 "layer":[
  {"data":{"name":"g1"},"transform":[{"fold":["a","b","c","d","e","f","g","h","i","j","k","l"],"as":["s","y"]},{"filter":"isValid(datum.y)"}],
   "mark":{"type":"line","color":"#bebebe","strokeWidth":2.5},
   "encoding":{"x":{"field":"x","type":"quantitative","scale":{"domain":[1800,2300],"nice":false,"zero":false},"axis":{"orient":"bottom","values":[1800,1820,1840,1860,1880,1900,1920,1940,1960,1980,2000,2020,2040,2060,2080,2100,2120,2140,2160,2180,2200,2220,2240,2260,2280,2300],"tickSize":{"condition":{"test":"datum.value % 100 === 0","value":8},"value":4},"labelExpr":"datum.value % 100 === 0 ? datum.label : ''","format":"d","title":"Year"}},
    "y":{"field":"y","type":"quantitative","scale":{"domain":[-1,5],"nice":false,"zero":false},"axis":{"orient":"left","values":[-1,-0.8,-0.6,-0.4,-0.2,0,0.2,0.4,0.6,0.8,1,1.2,1.4,1.6,1.8,2,2.2,2.4,2.6,2.8,3,3.2,3.4,3.6,3.8,4,4.2,4.4,4.6,4.8,5],"tickSize":{"condition":{"test":"datum.value % 1 === 0","value":8},"value":4},"labelExpr":"datum.value % 1 === 0 ? datum.label : ''","format":".1f","title":"Global Temp Anomaly (°C)"}},
    "detail":{"field":"s","type":"nominal"}}},
  {"data":{"name":"r1"},"mark":{"type":"line","color":"#ff0000","strokeWidth":2},
   "encoding":{"x":{"field":"x","type":"quantitative","scale":{"domain":[1800,2300],"nice":false,"zero":false},"axis":{"orient":"top","values":[1800,1820,1840,1860,1880,1900,1920,1940,1960,1980,2000,2020,2040,2060,2080,2100,2120,2140,2160,2180,2200,2220,2240,2260,2280,2300],"tickSize":{"condition":{"test":"datum.value % 100 === 0","value":8},"value":4},"labels":false,"title":null}},
    "y":{"field":"y","type":"quantitative","scale":{"domain":[-1,5],"nice":false,"zero":false},"axis":{"orient":"right","values":[-1,-0.8,-0.6,-0.4,-0.2,0,0.2,0.4,0.6,0.8,1,1.2,1.4,1.6,1.8,2,2.2,2.4,2.6,2.8,3,3.2,3.4,3.6,3.8,4,4.2,4.4,4.6,4.8,5],"tickSize":{"condition":{"test":"datum.value % 1 === 0","value":8},"value":4},"labels":false,"title":null}}}}
 ]},
{"title":"RCP8.5 Surface Temperature Timeseries","width":515,"height":256,
 "resolve":{"axis":{"x":"independent","y":"independent"}},
 "layer":[
  {"data":{"name":"g2"},"transform":[{"fold":["a","b","c","d","e","f","g","h","i"],"as":["s","y"]},{"filter":"isValid(datum.y)"}],
   "mark":{"type":"line","color":"#bebebe","strokeWidth":2.5},
   "encoding":{"x":{"field":"x","type":"quantitative","scale":{"domain":[1800,2300],"nice":false,"zero":false},"axis":{"orient":"bottom","values":[1800,1820,1840,1860,1880,1900,1920,1940,1960,1980,2000,2020,2040,2060,2080,2100,2120,2140,2160,2180,2200,2220,2240,2260,2280,2300],"tickSize":{"condition":{"test":"datum.value % 100 === 0","value":8},"value":4},"labelExpr":"datum.value % 100 === 0 ? datum.label : ''","format":"d","title":"Year"}},
    "y":{"field":"y","type":"quantitative","scale":{"domain":[-3,15],"nice":false,"zero":false},"axis":{"orient":"left","values":[-3,-2,-1,0,1,2,3,4,5,6,7,8,9,10,11,12,13,14,15],"tickSize":{"condition":{"test":"datum.value % 3 === 0","value":8},"value":4},"labelExpr":"datum.value % 3 === 0 ? datum.label : ''","format":"d","title":"Global Temp Anomaly (°C)"}},
    "detail":{"field":"s","type":"nominal"}}},
  {"data":{"name":"r2"},"mark":{"type":"line","color":"#ff0000","strokeWidth":2},
   "encoding":{"x":{"field":"x","type":"quantitative","scale":{"domain":[1800,2300],"nice":false,"zero":false},"axis":{"orient":"top","values":[1800,1820,1840,1860,1880,1900,1920,1940,1960,1980,2000,2020,2040,2060,2080,2100,2120,2140,2160,2180,2200,2220,2240,2260,2280,2300],"tickSize":{"condition":{"test":"datum.value % 100 === 0","value":8},"value":4},"labels":false,"title":null}},
    "y":{"field":"y","type":"quantitative","scale":{"domain":[-3,15],"nice":false,"zero":false},"axis":{"orient":"right","values":[-3,-2,-1,0,1,2,3,4,5,6,7,8,9,10,11,12,13,14,15],"tickSize":{"condition":{"test":"datum.value % 3 === 0","value":8},"value":4},"labels":false,"title":null}}}}
 ]},
{"title":{"text":"RCP4.5 Surface Temperature Timeseries","offset":14},"width":514,"height":257,
 "resolve":{"axis":{"x":"independent","y":"independent"}},
 "layer":[
  {"data":{"name":"g3"},"transform":[{"fold":["a","b","c","d","e","f","g","h","i","j","k","l"],"as":["s","y"]},{"filter":"isValid(datum.y)"}],
   "mark":{"type":"line","color":"#bebebe","strokeWidth":2.5},
   "encoding":{"x":{"field":"x","type":"quantitative","scale":{"domain":[1800,2300],"nice":false,"zero":false},"axis":{"orient":"bottom","values":[1800,1820,1840,1860,1880,1900,1920,1940,1960,1980,2000,2020,2040,2060,2080,2100,2120,2140,2160,2180,2200,2220,2240,2260,2280,2300],"tickSize":{"condition":{"test":"datum.value % 100 === 0","value":8},"value":4},"labelExpr":"datum.value % 100 === 0 ? datum.label : ''","format":"d","title":"Year"}},
    "y":{"field":"y","type":"quantitative","scale":{"domain":[-2,10],"nice":false,"zero":false},"axis":{"orient":"left","values":[-2,-1.5,-1,-0.5,0,0.5,1,1.5,2,2.5,3,3.5,4,4.5,5,5.5,6,6.5,7,7.5,8,8.5,9,9.5,10],"tickSize":{"condition":{"test":"datum.value % 2 === 0","value":8},"value":4},"labelExpr":"datum.value % 2 === 0 ? datum.label : ''","format":"d","title":"High Lat Temp Anomaly (°C)"}},
    "detail":{"field":"s","type":"nominal"}}},
  {"data":{"name":"r3"},"mark":{"type":"line","color":"#ff0000","strokeWidth":2},
   "encoding":{"x":{"field":"x","type":"quantitative","scale":{"domain":[1800,2300],"nice":false,"zero":false},"axis":{"orient":"top","values":[1800,1820,1840,1860,1880,1900,1920,1940,1960,1980,2000,2020,2040,2060,2080,2100,2120,2140,2160,2180,2200,2220,2240,2260,2280,2300],"tickSize":{"condition":{"test":"datum.value % 100 === 0","value":8},"value":4},"labels":false,"title":null}},
    "y":{"field":"y","type":"quantitative","scale":{"domain":[-2,10],"nice":false,"zero":false},"axis":{"orient":"right","values":[-2,-1.5,-1,-0.5,0,0.5,1,1.5,2,2.5,3,3.5,4,4.5,5,5.5,6,6.5,7,7.5,8,8.5,9,9.5,10],"tickSize":{"condition":{"test":"datum.value % 2 === 0","value":8},"value":4},"labels":false,"title":null}}}}
 ]},
{"title":{"text":"RCP8.5 Surface Temperature Timeseries","offset":14},"width":515,"height":257,
 "resolve":{"axis":{"x":"independent","y":"independent"}},
 "layer":[
  {"data":{"name":"g4"},"transform":[{"fold":["a","b","c","d","e","f","g","h"],"as":["s","y"]},{"filter":"isValid(datum.y)"}],
   "mark":{"type":"line","color":"#bebebe","strokeWidth":2.5},
   "encoding":{"x":{"field":"x","type":"quantitative","scale":{"domain":[1800,2300],"nice":false,"zero":false},"axis":{"orient":"bottom","values":[1800,1820,1840,1860,1880,1900,1920,1940,1960,1980,2000,2020,2040,2060,2080,2100,2120,2140,2160,2180,2200,2220,2240,2260,2280,2300],"tickSize":{"condition":{"test":"datum.value % 100 === 0","value":8},"value":4},"labelExpr":"datum.value % 100 === 0 ? datum.label : ''","format":"d","title":"Year"}},
    "y":{"field":"y","type":"quantitative","scale":{"domain":[-5,30],"nice":false,"zero":false},"axis":{"orient":"left","values":[-5,-4,-3,-2,-1,0,1,2,3,4,5,6,7,8,9,10,11,12,13,14,15,16,17,18,19,20,21,22,23,24,25,26,27,28,29,30],"tickSize":{"condition":{"test":"datum.value % 5 === 0","value":8},"value":4},"labelExpr":"datum.value % 5 === 0 ? datum.label : ''","format":"d","title":"High Lat Temp Anomaly (°C)"}},
    "detail":{"field":"s","type":"nominal"}}},
  {"data":{"name":"r4"},"mark":{"type":"line","color":"#ff0000","strokeWidth":2},
   "encoding":{"x":{"field":"x","type":"quantitative","scale":{"domain":[1800,2300],"nice":false,"zero":false},"axis":{"orient":"top","values":[1800,1820,1840,1860,1880,1900,1920,1940,1960,1980,2000,2020,2040,2060,2080,2100,2120,2140,2160,2180,2200,2220,2240,2260,2280,2300],"tickSize":{"condition":{"test":"datum.value % 100 === 0","value":8},"value":4},"labels":false,"title":null}},
    "y":{"field":"y","type":"quantitative","scale":{"domain":[-5,30],"nice":false,"zero":false},"axis":{"orient":"right","values":[-5,-4,-3,-2,-1,0,1,2,3,4,5,6,7,8,9,10,11,12,13,14,15,16,17,18,19,20,21,22,23,24,25,26,27,28,29,30],"tickSize":{"condition":{"test":"datum.value % 5 === 0","value":8},"value":4},"labels":false,"title":null}}}}
 ]},
{"title":{"text":"RCP4.5 Surface Temperature Timeseries","offset":-23},"width":514,"height":257,
 "resolve":{"axis":{"x":"independent","y":"independent"}},
 "layer":[
  {"data":{"name":"g5"},"transform":[{"fold":["a","b","c","d","e","f","g","h","i","j","k","l"],"as":["s","y"]},{"filter":"isValid(datum.y)"}],
   "mark":{"type":"line","color":"#bebebe","strokeWidth":2.5},
   "encoding":{"x":{"field":"x","type":"quantitative","scale":{"domain":[1800,2300],"nice":false,"zero":false},"axis":{"orient":"bottom","values":[1800,1820,1840,1860,1880,1900,1920,1940,1960,1980,2000,2020,2040,2060,2080,2100,2120,2140,2160,2180,2200,2220,2240,2260,2280,2300],"tickSize":{"condition":{"test":"datum.value % 100 === 0","value":8},"value":4},"labelExpr":"datum.value % 100 === 0 ? datum.label : ''","format":"d","title":"Year"}},
    "y":{"field":"y","type":"quantitative","scale":{"domain":[-4,10],"nice":false,"zero":false},"axis":{"orient":"left","values":[-4,-3.5,-3,-2.5,-2,-1.5,-1,-0.5,0,0.5,1,1.5,2,2.5,3,3.5,4,4.5,5,5.5,6,6.5,7,7.5,8,8.5,9,9.5,10],"tickSize":{"condition":{"test":"datum.value % 2 === 0","value":8},"value":4},"labelExpr":"datum.value % 2 === 0 ? datum.label : ''","format":"d","title":"Terrestrial High Lat Temp Anom. (°C)"}},
    "detail":{"field":"s","type":"nominal"}}},
  {"data":{"name":"r5"},"mark":{"type":"line","color":"#ff0000","strokeWidth":2},
   "encoding":{"x":{"field":"x","type":"quantitative","scale":{"domain":[1800,2300],"nice":false,"zero":false},"axis":{"orient":"top","values":[1800,1820,1840,1860,1880,1900,1920,1940,1960,1980,2000,2020,2040,2060,2080,2100,2120,2140,2160,2180,2200,2220,2240,2260,2280,2300],"tickSize":{"condition":{"test":"datum.value % 100 === 0","value":8},"value":4},"labels":false,"title":null}},
    "y":{"field":"y","type":"quantitative","scale":{"domain":[-4,10],"nice":false,"zero":false},"axis":{"orient":"right","values":[-4,-3.5,-3,-2.5,-2,-1.5,-1,-0.5,0,0.5,1,1.5,2,2.5,3,3.5,4,4.5,5,5.5,6,6.5,7,7.5,8,8.5,9,9.5,10],"tickSize":{"condition":{"test":"datum.value % 2 === 0","value":8},"value":4},"labels":false,"title":null}}}}
 ]},
{"title":{"text":"RCP8.5 Surface Temperature Timeseries","offset":-21},"width":515,"height":256,
 "resolve":{"axis":{"x":"independent","y":"independent"}},
 "layer":[
  {"data":{"name":"g6"},"transform":[{"fold":["a","b","c","d","e","f","g","h"],"as":["s","y"]},{"filter":"isValid(datum.y)"}],
   "mark":{"type":"line","color":"#bebebe","strokeWidth":2.5},
   "encoding":{"x":{"field":"x","type":"quantitative","scale":{"domain":[1800,2300],"nice":false,"zero":false},"axis":{"orient":"bottom","values":[1800,1820,1840,1860,1880,1900,1920,1940,1960,1980,2000,2020,2040,2060,2080,2100,2120,2140,2160,2180,2200,2220,2240,2260,2280,2300],"tickSize":{"condition":{"test":"datum.value % 100 === 0","value":8},"value":4},"labelExpr":"datum.value % 100 === 0 ? datum.label : ''","format":"d","title":"Year"}},
    "y":{"field":"y","type":"quantitative","scale":{"domain":[-4,24],"nice":false,"zero":false},"axis":{"orient":"left","values":[-4,-3,-2,-1,0,1,2,3,4,5,6,7,8,9,10,11,12,13,14,15,16,17,18,19,20,21,22,23,24],"tickSize":{"condition":{"test":"datum.value % 4 === 0","value":8},"value":4},"labelExpr":"datum.value % 4 === 0 ? datum.label : ''","format":"d","title":"Terrestrial High Lat Temp Anom (°C)"}},
    "detail":{"field":"s","type":"nominal"}}},
  {"data":{"name":"r6"},"mark":{"type":"line","color":"#ff0000","strokeWidth":2},
   "encoding":{"x":{"field":"x","type":"quantitative","scale":{"domain":[1800,2300],"nice":false,"zero":false},"axis":{"orient":"top","values":[1800,1820,1840,1860,1880,1900,1920,1940,1960,1980,2000,2020,2040,2060,2080,2100,2120,2140,2160,2180,2200,2220,2240,2260,2280,2300],"tickSize":{"condition":{"test":"datum.value % 100 === 0","value":8},"value":4},"labels":false,"title":null}},
    "y":{"field":"y","type":"quantitative","scale":{"domain":[-4,24],"nice":false,"zero":false},"axis":{"orient":"right","values":[-4,-3,-2,-1,0,1,2,3,4,5,6,7,8,9,10,11,12,13,14,15,16,17,18,19,20,21,22,23,24],"tickSize":{"condition":{"test":"datum.value % 4 === 0","value":8},"value":4},"labels":false,"title":null}}}}
 ]}
]
}
